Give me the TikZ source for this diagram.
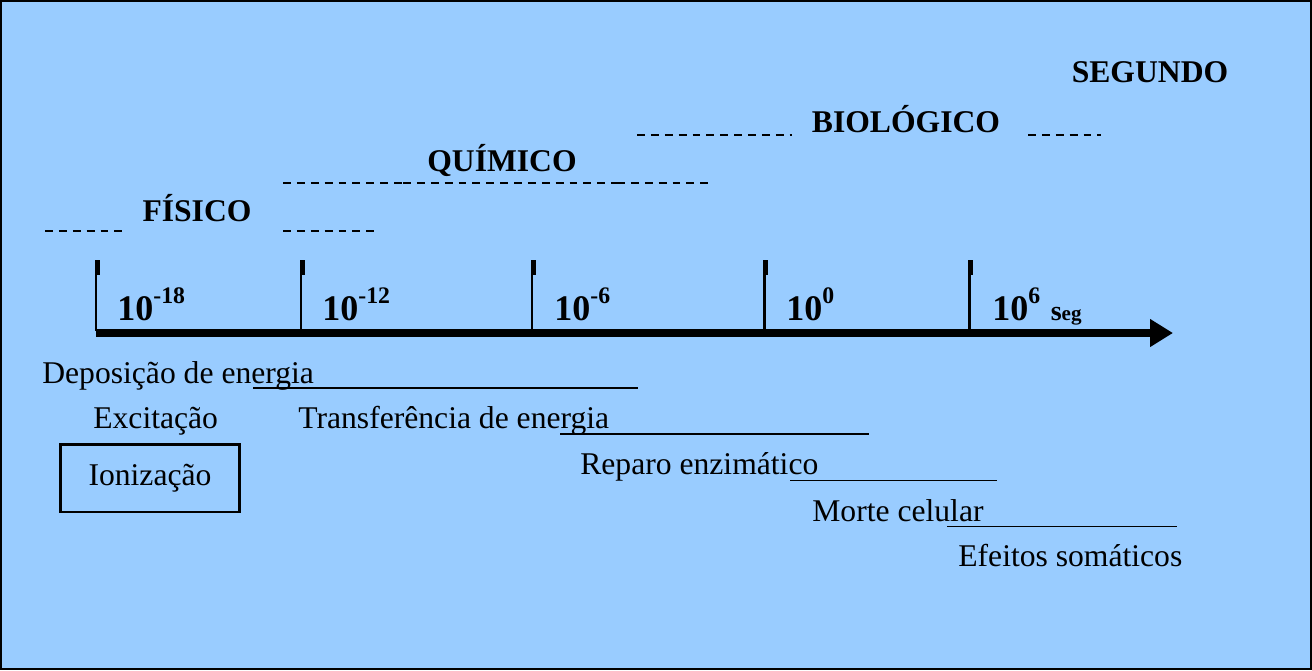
\documentclass[tikz,border=0pt]{standalone}
\usepackage{fontspec}
\setmainfont{Liberation Serif}
\usetikzlibrary{arrows.meta}
\definecolor{sky}{RGB}{153,204,255}
\newcommand\tpow[1]{\raisebox{9.5pt}{\fontsize{13.5}{15}\selectfont #1}}

\begin{document}
\begin{tikzpicture}[x=0.02cm, y=-0.02cm,
    era/.style={font=\fontsize{18}{21}\selectfont\bfseries, inner sep=0pt, anchor=base},
    pw/.style={font=\fontsize{20.5}{24}\selectfont\bfseries, inner sep=0pt, anchor=base west},
    lbl/.style={font=\fontsize{18}{21}\selectfont, inner sep=0pt, anchor=base west},
    dsh/.style={line width=1.6pt, dash pattern=on 4.5pt off 3.4pt},
    dshthin/.style={line width=0.6pt, dash pattern=on 4.5pt off 3.4pt},
    tk/.style={line width=1.7pt},
    uline/.style={line width=0.6pt},
    axis/.style={line width=4.5pt, -{Triangle[length=13pt, width=15pt]}}
]
\useasboundingbox (0,0) rectangle (1312,670);
\draw[fill=sky, line width=1.1pt] (1,1) rectangle (1311,669);
\coordinate (a0) at (96,333);
\coordinate (a1) at (1173,333);
\draw[axis] (a0) -- (a1);
\foreach \x in {96,301,532,764,969} {
  \draw[tk] (\x,262) -- (\x,331);
  \fill (\x-1.5,260) rectangle (\x+4,275);
}
\node[pw] (t1) at (117,320) {10\tpow{-18}};
\node[pw] (t2) at (322,320) {10\tpow{-12}};
\node[pw] (t3) at (554,320) {10\tpow{-6}};
\node[pw] (t4) at (786,320) {10\tpow{0}};
\node[pw] (t5) at (992,320) {10\tpow{6}\hspace{6pt}{\fontsize{16}{18}\selectfont s}{\fontsize{12}{14}\selectfont eg}};
\node[era] (fis) at (197,221) {FÍSICO};
\node[era] (qui) at (502,171) {QUÍMICO};
\node[era] (bio) at (906,132) {BIOLÓGICO};
\node[era] (seg) at (1150,82) {SEGUNDO};
\draw[dsh] (45,231) -- (122,231);
\draw[dsh] (283,231) -- (375,231);
\draw[dsh] (283,183) -- (403,183);
\draw[dshthin] (403,183) -- (617,183);
\draw[dsh] (617,183) -- (710,183);
\draw[dsh] (637,135) -- (792,135);
\draw[dsh] (1028,135) -- (1101,135);
\node[lbl] (dep) at (42,383) {Deposição de energia};
\node[lbl] (exc) at (93,428) {Excitação};
\node[lbl] (tra) at (298,428) {Transferência de energia};
\node[draw, line width=1.7pt, minimum width=3.6cm, minimum height=1.36cm, inner sep=0pt, font=\fontsize{18}{21}\selectfont] (ion) at (150,478) {Ionização};
\node[lbl] (rep) at (580,474) {Reparo enzimático};
\node[lbl] (mor) at (812,521) {Morte celular};
\node[lbl] (efe) at (958,566) {Efeitos somáticos};
\draw[uline] (253,388) -- (638,388);
\draw[uline] (560,434) -- (869,434);
\draw[uline, line width=0.45pt] (790,480) -- (997,480);
\draw[uline, line width=0.45pt] (947,526) -- (1177,526);
\end{tikzpicture}
\end{document}
